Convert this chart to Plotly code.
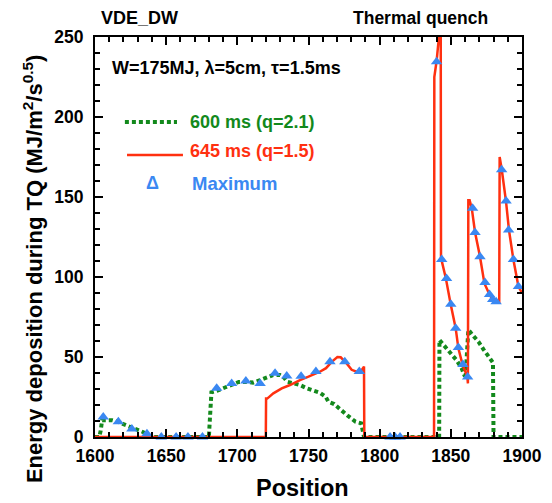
import plotly.graph_objects as go

# 600 ms (q=2.1) series
x_600 = [1600, 1603, 1604, 1605, 1612, 1616, 1620, 1624, 1628, 1631, 1634, 1637, 1640,
         1680, 1681, 1681.8, 1686, 1691, 1697, 1701, 1706, 1711, 1716, 1721, 1725, 1730,
         1733, 1735, 1740, 1744, 1749, 1753, 1758, 1762, 1764, 1768, 1772, 1778, 1783,
         1787, 1788, 1789, 1800, 1841.8, 1842, 1847, 1850.6, 1854, 1857.6, 1859.5,
         1860.4, 1862.3, 1866.3, 1869.4, 1872.9, 1876.4, 1878.5, 1879.6, 1880, 1900]
y_600 = [0, 0, 4, 10.5, 10.5, 9.6, 8, 6.5, 5, 4.4, 3, 1, 0,
         0, 14, 28, 29, 31, 33, 34.4, 34.4, 34, 35.6, 37.3, 38.7, 38.7,
         37, 34.6, 33.5, 32.5, 30.4, 29.4, 27.7, 25.2, 22, 20.6, 17.3, 13, 9.6,
         8.6, 4.4, 0, 0, 0, 60.6, 55.4, 52.3, 48, 43, 38.7,
         38.7, 67, 62.7, 59.6, 54.8, 50, 47.5, 46.5, 0, 0]

# 645 ms (q=1.5) series
x_645 = [1600, 1720, 1720.2, 1721, 1725.3, 1731.2, 1737, 1744, 1750, 1758, 1762.3, 1766.3,
         1770.3, 1772.6, 1776.8, 1780.3, 1783.9, 1786.2, 1789, 1789.2, 1838.2, 1838.4,
         1840, 1841.5, 1842.3, 1842.9, 1843.1, 1846.4, 1848.8, 1850, 1853.4, 1855.3,
         1858.3, 1861.6, 1862, 1862.3, 1863.2, 1864.7, 1867, 1870.5, 1873.6, 1877.6,
         1880, 1883.5, 1884, 1884.3, 1885.8, 1888.8, 1890.9, 1894, 1897.5, 1900]
y_645 = [0, 0, 24, 24, 27.3, 30.4, 32.5, 35.6, 37.7, 40.8, 43, 47,
         50, 49.8, 46, 42, 40.8, 40.4, 44, 0, 0, 225,
         235, 250, 256, 256, 112, 99.6, 87.7, 82.5, 68, 55.4,
         45, 37.7, 33.5, 148, 148, 143, 128, 112.7, 96, 88.3,
         85.6, 84.6, 84.6, 175, 167, 147, 129, 110.6, 94, 90]

# Maximum markers
x_max = [1605.8, 1616.4, 1625.9, 1636.5, 1646.6, 1657, 1665.3, 1675.5, 1685.5, 1696,
         1706, 1716, 1726.5, 1734.7, 1744.8, 1755.2, 1765.1, 1775.5, 1785.7, 1807.3,
         1810.8, 1814.3, 1840, 1843.6, 1847, 1850, 1853.4, 1855.3, 1858.5, 1861.8,
         1865.3, 1867, 1870.5, 1874, 1877.2, 1879.4, 1881.8, 1885.7, 1888.8, 1890.6,
         1894, 1897.5]
y_max = [12.5, 9.6, 5, 2, 0, 0, 0, 0, 30.4, 33.5,
         35, 33.5, 39.8, 38.2, 38, 41, 47, 47, 41, 0,
         0, 0, 234.6, 111, 99, 83, 68, 56, 45.3, 37.5,
         143, 127.8, 112.7, 96.5, 89, 86, 84.6, 167, 147.5, 129.4,
         111, 94]

x_ticks = [1600, 1650, 1700, 1750, 1800, 1850, 1900]
y_ticks = [0, 50, 100, 150, 200, 250]

GREEN = "#13891c"
RED = "#ff3010"
BLUE = "#3a88f2"
FONT = "Liberation Sans"

fig = go.Figure()
fig.add_trace(go.Scatter(x=x_600, y=y_600, mode="lines", name="600 ms (q=2.1)",
                         line=dict(color=GREEN, width=4, dash="4px,3px")))
fig.add_trace(go.Scatter(x=x_645, y=y_645, mode="lines", name="645 ms (q=1.5)",
                         line=dict(color=RED, width=2.5)))
fig.add_trace(go.Scatter(x=x_max, y=y_max, mode="markers", name="Maximum",
                         marker=dict(symbol="triangle-up", size=10, color=BLUE),
                         cliponaxis=False))

axis_common = dict(
    showline=True, linewidth=2, linecolor="black", mirror="ticks",
    ticks="inside", ticklen=8, tickwidth=2, tickcolor="black",
    showgrid=False, zeroline=False, automargin=False,
    tickfont=dict(family=FONT, size=17.5, color="black", weight="bold"),
)
fig.update_xaxes(range=[1600, 1900], tickvals=x_ticks, ticklabelstandoff=2,
                 minor=dict(dtick=10, ticks="inside", ticklen=5, tickwidth=1.5, tickcolor="black"),
                 **axis_common)
fig.update_yaxes(range=[0, 250], tickvals=y_ticks, ticklabelstandoff=6,
                 minor=dict(dtick=10, ticks="inside", ticklen=5, tickwidth=1.5, tickcolor="black"),
                 **axis_common)

ann = []
ann.append(dict(text="Position", xref="paper", yref="paper", x=0.485, y=-0.128,
                xanchor="center", yanchor="middle", showarrow=False,
                font=dict(family=FONT, size=23.5, color="black", weight="bold")))
ann.append(dict(text="Energy deposition during TQ (MJ/m<sup>2</sup>/s<sup>0.5</sup>)",
                xref="paper", yref="paper", x=-0.145, y=0.42, textangle=-90,
                xanchor="center", yanchor="middle", showarrow=False,
                font=dict(family=FONT, size=22, color="black", weight="bold")))
ann.append(dict(text="VDE_DW", xref="paper", yref="paper", x=0.105, y=1.047,
                xanchor="center", yanchor="middle", showarrow=False,
                font=dict(family=FONT, size=18, color="black", weight="bold")))
ann.append(dict(text="Thermal quench", xref="paper", yref="paper", x=0.925, y=1.047,
                xanchor="right", yanchor="middle", showarrow=False,
                font=dict(family=FONT, size=17.5, color="black", weight="bold")))
ann.append(dict(text="W=175MJ, λ=5cm, τ=1.5ms", xref="paper", yref="paper", x=0.035, y=0.922,
                xanchor="left", yanchor="middle", showarrow=False,
                font=dict(family=FONT, size=18, color="black", weight="bold")))
ann.append(dict(text="600 ms (q=2.1)", xref="paper", yref="paper", x=0.218, y=0.787,
                xanchor="left", yanchor="middle", showarrow=False,
                font=dict(family=FONT, size=18, color=GREEN, weight="bold")))
ann.append(dict(text="645 ms (q=1.5)", xref="paper", yref="paper", x=0.218, y=0.715,
                xanchor="left", yanchor="middle", showarrow=False,
                font=dict(family=FONT, size=18, color=RED, weight="bold")))
ann.append(dict(text="Δ", xref="paper", yref="paper", x=0.1335, y=0.635,
                xanchor="center", yanchor="middle", showarrow=False,
                font=dict(family=FONT, size=18, color=BLUE, weight="bold")))
ann.append(dict(text="Maximum", xref="paper", yref="paper", x=0.2225, y=0.635,
                xanchor="left", yanchor="middle", showarrow=False,
                font=dict(family=FONT, size=18.5, color=BLUE, weight="bold")))

shapes = [
    dict(type="line", xref="paper", yref="paper", x0=0.070, x1=0.192, y0=0.7875, y1=0.7875,
         line=dict(color=GREEN, width=4, dash="4px,3px")),
    dict(type="line", xref="paper", yref="paper", x0=0.075, x1=0.206, y0=0.705, y1=0.705,
         line=dict(color=RED, width=2.5)),
]

fig.update_layout(
    width=552, height=503,
    margin=dict(l=95, r=30, t=37, b=66),
    paper_bgcolor="white", plot_bgcolor="white",
    showlegend=False,
    annotations=ann, shapes=shapes,
    font=dict(family=FONT),
)

fig.write_html("out.html", config={"displayModeBar": False},
               post_script="document.body.style.margin='0';document.body.style.padding='0';")
